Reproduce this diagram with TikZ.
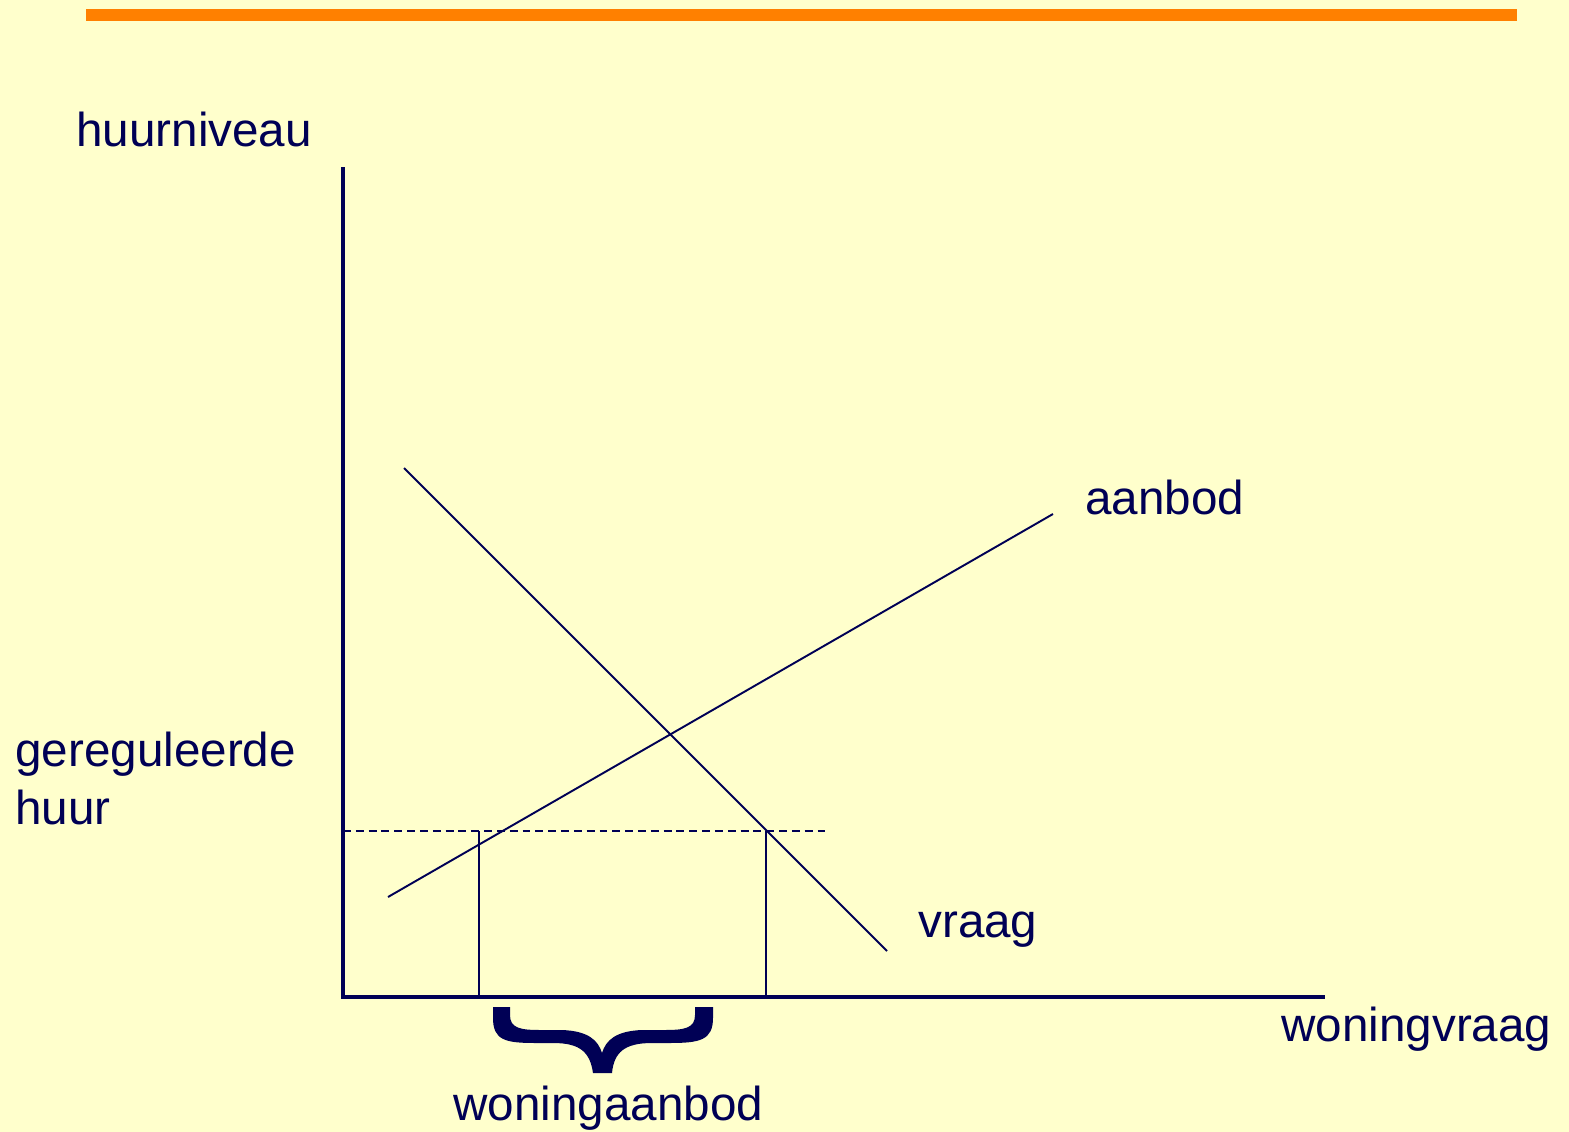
\documentclass[tikz,border=0pt]{standalone}
\usepackage{fontspec}
\setmainfont{Liberation Sans}
\usetikzlibrary{positioning, calc}

\definecolor{slidebg}{RGB}{255,255,204}
\definecolor{barorange}{RGB}{255,128,0}
\definecolor{inknavy}{RGB}{0,0,85}

\begin{document}
\begin{tikzpicture}[
    x=0.02cm, y=-0.02cm,
    label/.style={anchor=base west, inner sep=0pt, text=inknavy, font=\fontsize{27.1}{32.9}\selectfont, align=left},
    axis/.style={draw=inknavy, line width=1.9pt},
    curve/.style={draw=inknavy, line width=1.1pt},
    guide/.style={draw=inknavy, line width=0.9pt}
]

% background and top bar
\fill[slidebg] (0,0) rectangle (1569,1132);
\useasboundingbox (0,0) rectangle (1569,1132);
\fill[barorange] (86,9) rectangle (1517,21);

% axes
\coordinate (origin) at (343,997);
\coordinate (ytop) at (343,167);
\coordinate (xend) at (1325,997);
\path [axis] (ytop) -- (origin) -- (xend);

% curves
\coordinate (dstart) at (404,468);
\coordinate (dend) at (887,951);
\coordinate (sstart) at (388,897);
\coordinate (send) at (1053,514);
\path [curve] (dstart) -- (dend);
\path [curve] (sstart) -- (send);

% regulated rent and quantities
\coordinate (rentleft) at (343,831);
\coordinate (rentright) at (826,831);
\coordinate (qsup) at (479,831);
\coordinate (qdem) at (766,831);
\path [guide, dash pattern=on 4.5pt off 2.8pt] (rentleft) -- (rentright);
\path [guide] (qsup) -- (qsup |- origin);
\path [guide] (qdem) -- (qdem |- origin);

% brace under the supplied quantity
\fill[inknavy] (493,1007) -- (510,1007) -- (510,1015)
    .. controls (510,1028) and (520,1030) .. (540,1030) -- (562,1030)
    .. controls (588,1031) and (598,1040) .. (602,1053)
    .. controls (606,1040) and (616,1031) .. (642,1030) -- (665,1030)
    .. controls (685,1030) and (695,1028) .. (695,1015) -- (695,1007)
    -- (713,1007) -- (713,1018)
    .. controls (713,1040) and (700,1043) .. (670,1043) -- (652,1043)
    .. controls (625,1043) and (614,1052) .. (612,1073) -- (593,1073)
    .. controls (590,1052) and (580,1043) .. (553,1043) -- (535,1043)
    .. controls (505,1043) and (493,1040) .. (493,1018) -- cycle;

% labels
\node [label] (yname) at (76,147) {huurniveau};
\node [label] (supname) at (1085,514) {aanbod};
\node [label] (demname) at (918,937) {vraag};
\node [label] (rentname) at (15,824) {gereguleerde\\huur};
\node [label] (xname) at (1281,1041) {woningvraag};
\node [label] (supqname) at (453,1120) {woningaanbod};

\end{tikzpicture}
\end{document}
